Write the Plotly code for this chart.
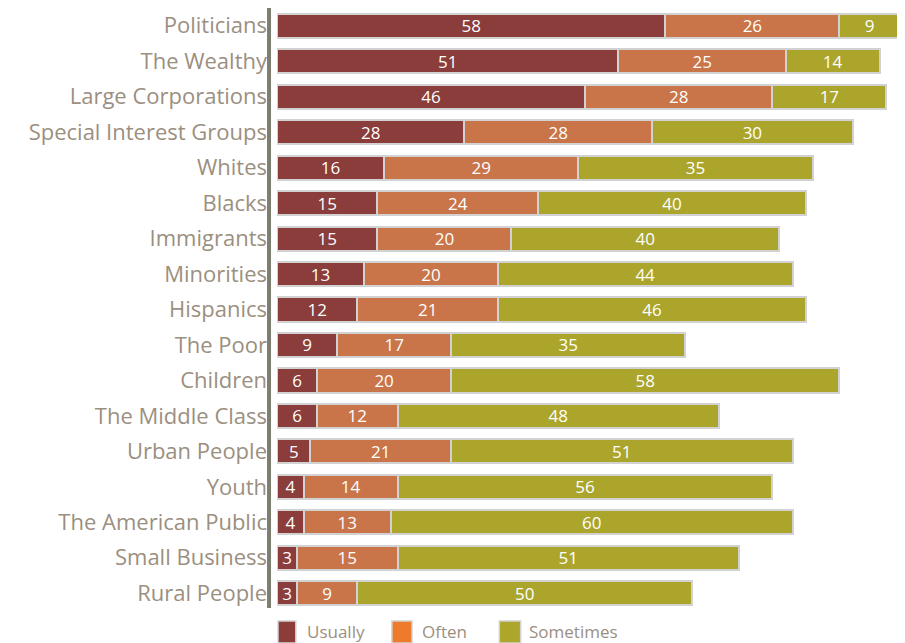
import plotly.graph_objects as go

categories = ["Politicians", "The Wealthy", "Large Corporations", "Special Interest Groups",
              "Whites", "Blacks", "Immigrants", "Minorities", "Hispanics", "The Poor",
              "Children", "The Middle Class", "Urban People", "Youth",
              "The American Public", "Small Business", "Rural People"]
usually = [58, 51, 46, 28, 16, 15, 15, 13, 12, 9, 6, 6, 5, 4, 4, 3, 3]
often = [26, 25, 28, 28, 29, 24, 20, 20, 21, 17, 20, 12, 21, 14, 13, 15, 9]
sometimes = [9, 14, 17, 30, 35, 40, 40, 44, 46, 35, 58, 48, 51, 56, 60, 51, 50]

series = [("Usually", usually, "#8a3d3a"),
          ("Often", often, "#c97549"),
          ("Sometimes", sometimes, "#aba52c")]
legend_colors = {"Usually": "#8c3c3a", "Often": "#ee7a2b", "Sometimes": "#aca72b"}

fig = go.Figure()
for name, vals, col in series:
    fig.add_trace(go.Bar(
        y=categories, x=vals, name=name, orientation="h",
        marker=dict(color=col, line=dict(color="#d2d2d2", width=2)),
        text=[str(v) for v in vals], textposition="inside",
        insidetextanchor="middle", textangle=0,
        textfont=dict(color="white", size=17, family="Open Sans"),
        width=0.68, showlegend=False,
    ))

# page body adds an 8px margin; figure sized to compensate
shapes = [dict(type="line", xref="paper", yref="paper", x0=-0.0127, x1=-0.0127,
               y0=0.005, y1=1.0, line=dict(color="#7d7d70", width=4))]
annotations = []
legend_items = [("Usually", 0.0016, 0.030, 0.044),
                ("Often", 0.183, 0.215, 0.228),
                ("Sometimes", 0.354, 0.388, 0.398)]
for name, x0, x1, tx in legend_items:
    shapes.append(dict(type="rect", xref="paper", yref="paper", x0=x0, x1=x1,
                       y0=-0.0166, y1=-0.053, fillcolor=legend_colors[name],
                       line=dict(color="#d2d2d2", width=1.5)))
    annotations.append(dict(xref="paper", yref="paper", x=tx, y=-0.034, text=name,
                            showarrow=False, xanchor="left", yanchor="middle",
                            font=dict(family="Open Sans", size=17, color="#9b8f80")))

fig.update_layout(
    barmode="stack", bargap=0.32,
    width=897, height=635,
    margin=dict(l=269, r=0, t=0, b=32),
    plot_bgcolor="white", paper_bgcolor="white",
    xaxis=dict(range=[0, 93.8], visible=False, showgrid=False),
    yaxis=dict(autorange="reversed", showgrid=False, showline=False, ticks="",
               automargin=False, ticklabelstandoff=9,
               tickfont=dict(family="Open Sans", size=22, color="#9b8f80")),
    uniformtext=dict(minsize=15, mode="show"),
    shapes=shapes, annotations=annotations,
)
fig.write_html("out.html")
